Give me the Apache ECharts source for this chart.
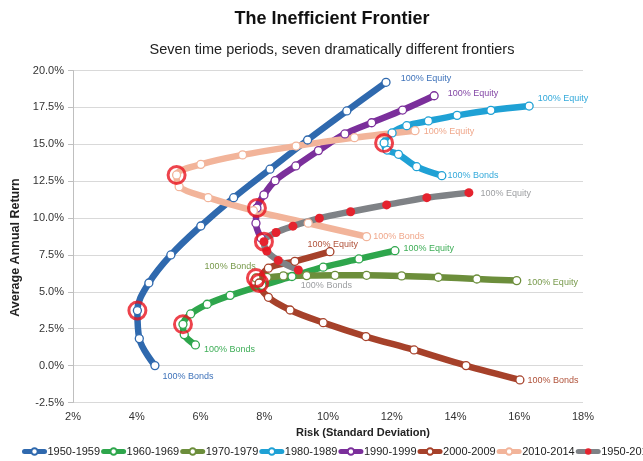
<!DOCTYPE html>
<html>
<head>
<meta charset="utf-8">
<script src="https://cdn.jsdelivr.net/npm/echarts@6/dist/echarts.min.js"></script>
<style>
html,body{margin:0;padding:0;background:#fff;}
#chart{width:643px;height:461px;}
</style>
</head>
<body>
<div id="chart"></div>
<script>
// ---- Data (risk = standard deviation %, ret = average annual return %) ----
const periods = ['1950-1959','1960-1969','1970-1979','1980-1989','1990-1999','2000-2009','2010-2014','1950-2014'];

const risk_1950s = [4.57,4.08,4.02,4.38,5.07,6.01,7.04,8.18,9.36,10.59,11.82];
const ret_1950s  = [0.00,1.83,3.73,5.60,7.50,9.46,11.38,13.31,15.29,17.26,19.20];

const risk_1960s = [5.84,5.49,5.45,5.69,6.21,6.93,7.93,8.87,9.85,10.97,12.10];
const ret_1960s  = [1.40,2.10,2.80,3.50,4.16,4.76,5.44,6.04,6.67,7.23,7.79];

const risk_1970s = [7.74,8.09,8.60,9.33,10.22,11.21,12.31,13.46,14.67,15.92];
const ret_1970s  = [5.94,5.98,6.08,6.10,6.12,6.12,6.08,5.99,5.87,5.76];

const risk_1980s = [13.57,12.78,12.21,11.85,11.76,12.01,12.47,13.15,14.05,15.11,16.31];
const ret_1980s  = [12.87,13.48,14.32,14.61,15.09,15.77,16.26,16.58,16.96,17.30,17.59];

const risk_1990s = [7.90,7.74,7.77,7.99,8.34,8.99,9.70,10.53,11.37,12.34,13.33];
const ret_1990s  = [8.65,9.65,10.68,11.57,12.53,13.53,14.57,15.70,16.46,17.32,18.29];

const risk_2000s = [16.02,14.33,12.70,11.19,9.85,8.81,8.13,7.84,8.13,8.96,10.06];
const ret_2000s  = [-0.97,0.00,1.06,1.97,2.91,3.77,4.63,5.60,6.60,7.07,7.72];

const risk_2010s = [11.21,9.38,7.66,6.24,5.33,5.25,6.01,7.32,9.00,10.83,12.73];
const ret_2010s  = [8.74,9.65,10.50,11.38,12.13,12.92,13.64,14.28,14.88,15.45,15.92];

const risk_all = [9.07,8.44,8.08,7.99,8.37,8.90,9.73,10.71,11.84,13.10,14.42];
const ret_all  = [6.48,7.13,7.77,8.40,9.02,9.45,9.99,10.43,10.89,11.38,11.72];

// index of the highlighted (circled) portfolio in each period
const circledIndex = [2,2,0,4,2,7,5,3];

const bondsText = '100% Bonds';
const equityText = '100% Equity';
const hasBondsLabel  = [true,true,true,true,false,true,true,true];
const hasEquityLabel = [true,true,true,true,true,true,true,true];

const xTicks = [2,4,6,8,10,12,14,16,18];
const yTicks = [-2.5,0,2.5,5,7.5,10,12.5,15,17.5,20];

// ---- Styling (kept apart from data) ----
const risks = [risk_1950s,risk_1960s,risk_1970s,risk_1980s,risk_1990s,risk_2000s,risk_2010s,risk_all];
const rets  = [ret_1950s,ret_1960s,ret_1970s,ret_1980s,ret_1990s,ret_2000s,ret_2010s,ret_all];
const lineColors  = ['#2F69AE','#2EA64C','#6C8E3B','#1FA1D5','#7B2F9B','#A6412A','#F2B49A','#7F8286'];
const labelColors = ['#3F73BA','#3FAE58','#789A4C','#35AADB','#8448A6','#B0523A','#F0A88C','#9C9EA1'];
// label offsets [dx, dy] relative to the 'right' position
const bondsOffset  = [[3,11],[4,5],[-56,-11],[1,0],[0,0],[3,1],[2,0],[-2,16]];
const equityOffset = [[10,-4],[4,-2],[6,2],[4,-8],[9,-2],[-27,-7],[4,1],[7,1]];

const FONT = '"Liberation Sans", Arial, Helvetica, sans-serif';

function buildSeries(i){
  const n = risks[i].length;
  const data = [];
  for (let k=0;k<n;k++){
    const item = {value:[risks[i][k], rets[i][k]]};
    if (k===0 && hasBondsLabel[i]){
      item.label = {show:true, position:'right', distance:0, offset:bondsOffset[i], formatter:bondsText,
        color:labelColors[i], fontSize:9, fontFamily:FONT};
    }
    if (k===n-1 && hasEquityLabel[i]){
      item.label = {show:true, position:'right', distance:0, offset:equityOffset[i], formatter:equityText,
        color:labelColors[i], fontSize:9, fontFamily:FONT};
    }
    data.push(item);
  }
  const isAll = (i===7);
  return {
    name: periods[i],
    type:'line',
    smooth:0.35,
    symbol:'circle',
    symbolSize: isAll ? 9 : 8,
    showAllSymbol:true,
    lineStyle:{width:6.5, color:lineColors[i], cap:'round', join:'round'},
    itemStyle: isAll ? {color:'#E5232E', borderColor:'#E5232E', borderWidth:0}
                     : {color:'#ffffff', borderColor:lineColors[i], borderWidth:1.3},
    label:{show:false},
    emphasis:{disabled:true},
    data:data,
    z:2
  };
}

const series = periods.map((p,i)=>buildSeries(i));
series.push({
  name:'circled',
  type:'scatter',
  symbol:'circle',
  symbolSize:17,
  itemStyle:{color:'rgba(0,0,0,0)', borderColor:'#E8141F', borderWidth:3},
  data: circledIndex.map((k,i)=>[risks[i][k], rets[i][k]]),
  emphasis:{disabled:true},
  z:5
});

const chart = echarts.init(document.getElementById('chart'), null, {renderer:'canvas'});
chart.setOption({
  animation:false,
  backgroundColor:'#ffffff',
  textStyle:{fontFamily:FONT},
  title:[
    {text:'The Inefficient Frontier', left:327, top:5, textAlign:'center',
     textStyle:{fontSize:18, fontWeight:'bold', color:'#111', fontFamily:FONT}},
    {text:'Seven time periods, seven dramatically different frontiers', left:327, top:37, textAlign:'center',
     textStyle:{fontSize:14.5, fontWeight:'normal', color:'#222', fontFamily:FONT}}
  ],
  grid:{left:73, right:60, top:70.5, bottom:58.5, containLabel:false},
  legend:{
    data:periods, left:22, top:446, width:700, padding:0, itemWidth:20, itemHeight:8, itemGap:1,
    lineStyle:{width:5},
    textStyle:{fontSize:11, color:'#222', fontFamily:FONT, padding:[0,0,0,-2]}
  },
  xAxis:{
    type:'value', min:xTicks[0], max:xTicks[xTicks.length-1], interval:2,
    name:'Risk (Standard Deviation)', nameLocation:'middle', nameGap:24,
    nameTextStyle:{fontSize:11, fontWeight:'bold', color:'#222', fontFamily:FONT, padding:[0,0,0,70]},
    axisLine:{show:false}, axisTick:{show:false},
    axisLabel:{formatter:v=>v+'%', fontSize:11, color:'#333', margin:9, fontFamily:FONT},
    splitLine:{show:false}
  },
  yAxis:{
    type:'value', min:yTicks[0], max:yTicks[yTicks.length-1], interval:2.5,
    name:'Average Annual Return', nameLocation:'middle', nameGap:50,
    nameTextStyle:{fontSize:12.5, fontWeight:'bold', color:'#222', fontFamily:FONT, padding:[0,22,0,0]},
    axisLine:{show:true, lineStyle:{color:'#BFBFBF', width:1}},
    axisTick:{show:true, length:5, lineStyle:{color:'#BFBFBF'}},
    axisLabel:{formatter:v=>v.toFixed(1)+'%', fontSize:11, color:'#333', margin:9, fontFamily:FONT},
    splitLine:{show:true, lineStyle:{color:'#D9D9D9', width:1}}
  },
  series:series
});
</script>
</body>
</html>
